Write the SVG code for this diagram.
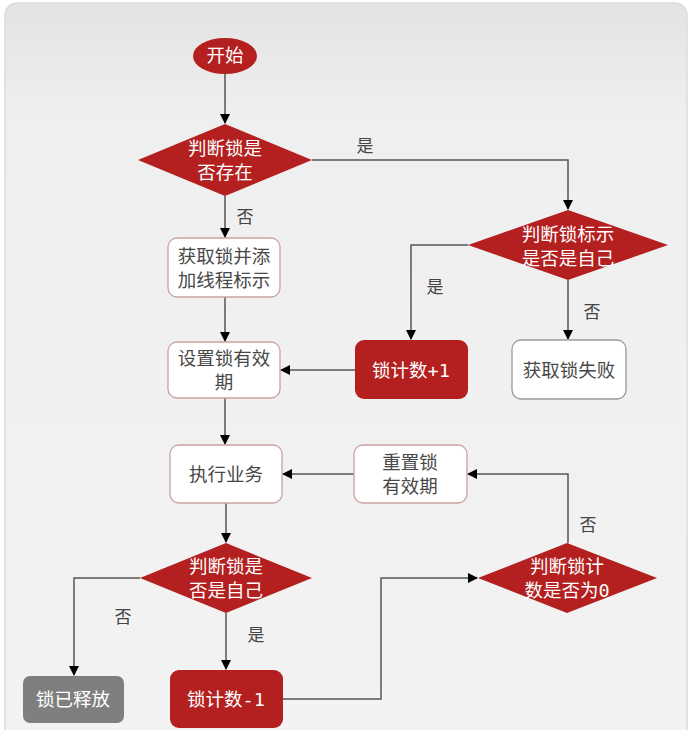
<svg xmlns="http://www.w3.org/2000/svg" width="691" height="730" viewBox="0 0 691 730">
<defs>
<linearGradient id="bg" x1="0" y1="0" x2="0" y2="1">
<stop offset="0" stop-color="#e3e3e3"/>
<stop offset="0.15" stop-color="#efefef"/>
<stop offset="1" stop-color="#f3f3f3"/>
</linearGradient>
<marker id="ah" viewBox="0 0 10 10" refX="9" refY="5" markerWidth="10" markerHeight="10" markerUnits="userSpaceOnUse" orient="auto">
<path d="M0,0 L10,5 L0,10 Z" fill="#000"/>
</marker>
</defs>
<style>
.red{fill:#b3201f;}
.wbox{fill:#ffffff;stroke:#c8a3a3;stroke-width:1.3;}
.gbox{fill:#ffffff;stroke:#9a9a9a;stroke-width:1.3;}
.grey{fill:#7f7f7f;}
.t{font-family:"DejaVu Sans Mono","Noto Sans CJK SC",monospace;font-size:18.5px;text-anchor:middle;dominant-baseline:central;}
.tw{fill:#ffffff;}
.td{fill:#484848;}
.lbl{font-family:"Noto Sans CJK SC","Noto Sans",sans-serif;font-size:17px;fill:#444;text-anchor:middle;dominant-baseline:central;}
.c{fill:none;stroke:#555555;stroke-width:1.5;}
</style>
<rect x="0" y="0" width="691" height="730" fill="#ffffff"/>
<rect x="5" y="3" width="682" height="740" rx="12" fill="url(#bg)" stroke="#dcdcdc" stroke-width="1.5"/>

<g id="connectors">
<path class="c" d="M225,73 L225,123" marker-end="url(#ah)"/>
<path class="c" d="M312,160 L568,160 L568,209" marker-end="url(#ah)"/>
<path class="c" d="M225,196 L225,237" marker-end="url(#ah)"/>
<path class="c" d="M468,245 L411,245 L411,339" marker-end="url(#ah)"/>
<path class="c" d="M568,280 L568,339" marker-end="url(#ah)"/>
<path class="c" d="M225,297 L225,341" marker-end="url(#ah)"/>
<path class="c" d="M355,370 L281,370" marker-end="url(#ah)"/>
<path class="c" d="M225,398 L225,444" marker-end="url(#ah)"/>
<path class="c" d="M354,474 L283,474" marker-end="url(#ah)"/>
<path class="c" d="M568,543 L568,474 L468,474" marker-end="url(#ah)"/>
<path class="c" d="M226,503 L226,542" marker-end="url(#ah)"/>
<path class="c" d="M140,578 L74,578 L74,675" marker-end="url(#ah)"/>
<path class="c" d="M226,613 L226,669" marker-end="url(#ah)"/>
<path class="c" d="M283,699 L381,699 L381,578 L477,578" marker-end="url(#ah)"/>
<text class="lbl" x="365" y="144">是</text>
<text class="lbl" x="245" y="215">否</text>
<text class="lbl" x="435" y="285">是</text>
<text class="lbl" x="592" y="310">否</text>
<text class="lbl" x="588" y="523">否</text>
<text class="lbl" x="123" y="615">否</text>
<text class="lbl" x="256" y="633">是</text>
</g>

<g id="start">
<ellipse class="red" cx="225" cy="56" rx="32" ry="18"/>
<text class="t tw" x="225" y="55">开始</text>
</g>
<g id="d1">
<polygon class="red" points="225,124 312,160 225,196 138,160"/>
<text class="t tw" x="225" y="148">判断锁是</text>
<text class="t tw" x="225" y="172">否存在</text>
</g>
<g id="d2">
<polygon class="red" points="568,210 668,245 568,280 468,245"/>
<text class="t tw" x="568" y="234">判断锁标示</text>
<text class="t tw" x="568" y="258">是否是自己</text>
</g>
<g id="acquire">
<rect class="wbox" x="168" y="238" width="112" height="59" rx="9"/>
<text class="t td" x="224" y="256">获取锁并添</text>
<text class="t td" x="224" y="280">加线程标示</text>
</g>
<g id="setexpire">
<rect class="wbox" x="168" y="342" width="112" height="56" rx="9"/>
<text class="t td" x="224" y="358">设置锁有效</text>
<text class="t td" x="224" y="382">期</text>
</g>
<g id="inc">
<rect class="red" x="355" y="340" width="113" height="59" rx="9"/>
<text class="t tw" x="411" y="370">锁计数+1</text>
</g>
<g id="fail">
<rect class="gbox" x="512" y="340" width="114" height="59" rx="9"/>
<text class="t td" x="569" y="370">获取锁失败</text>
</g>
<g id="exec">
<rect class="wbox" x="170" y="445" width="112" height="58" rx="9"/>
<text class="t td" x="226" y="474">执行业务</text>
</g>
<g id="reset">
<rect class="wbox" x="354" y="445" width="113" height="58" rx="9"/>
<text class="t td" x="410" y="462">重置锁</text>
<text class="t td" x="410" y="486">有效期</text>
</g>
<g id="d3">
<polygon class="red" points="226,543 312,578 226,613 140,578"/>
<text class="t tw" x="226" y="566">判断锁是</text>
<text class="t tw" x="226" y="590">否是自己</text>
</g>
<g id="d4">
<polygon class="red" points="567,543 657,578 567,613 478,578"/>
<text class="t tw" x="567" y="566">判断锁计</text>
<text class="t tw" x="567" y="590">数是否为0</text>
</g>
<g id="released">
<rect class="grey" x="23" y="676" width="101" height="47" rx="7"/>
<text class="t tw" x="73" y="699">锁已释放</text>
</g>
<g id="dec">
<rect class="red" x="170" y="670" width="113" height="58" rx="9"/>
<text class="t tw" x="226" y="699">锁计数-1</text>
</g>
</svg>
